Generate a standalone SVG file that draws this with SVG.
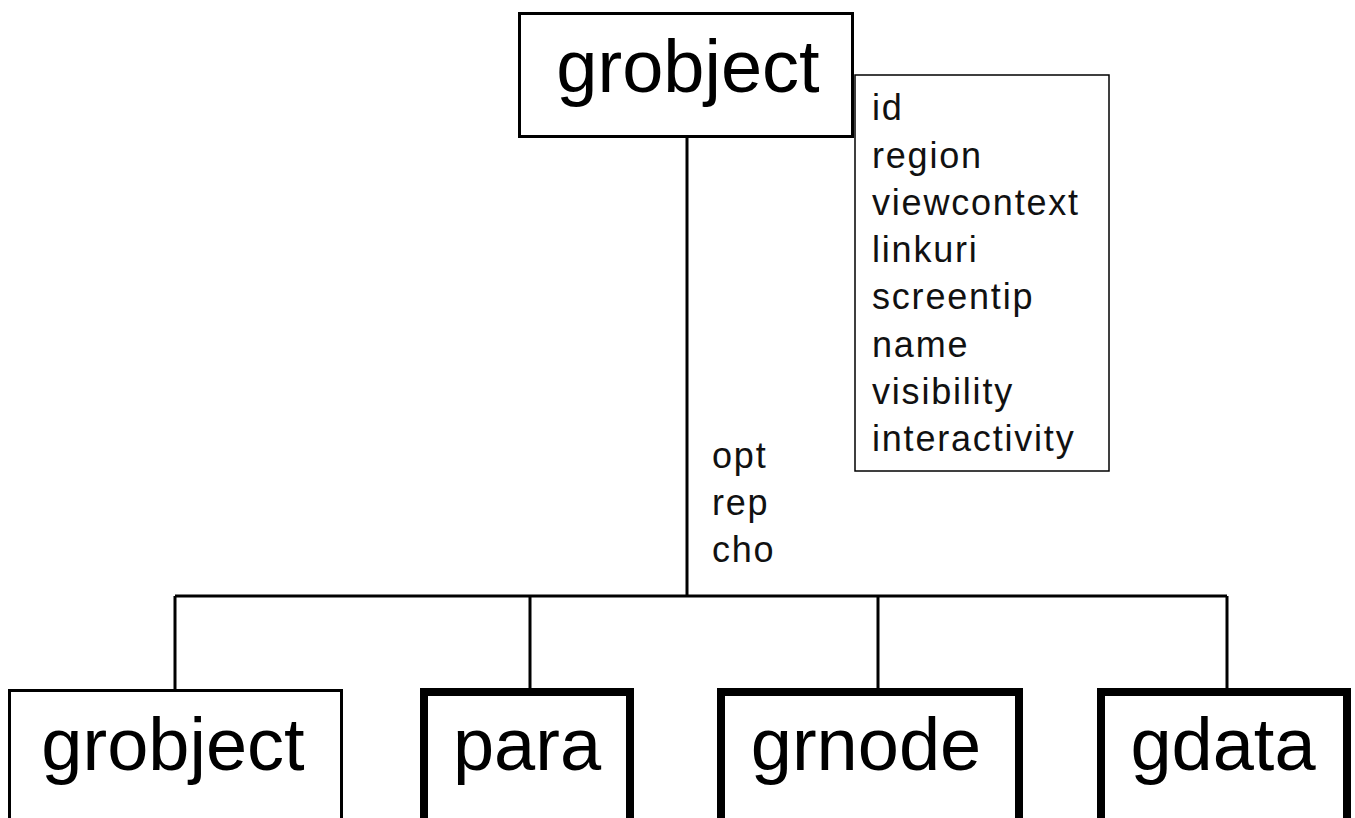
<svg xmlns="http://www.w3.org/2000/svg" width="1355" height="818" viewBox="0 0 1355 818">
<style>
.box{fill:#fff;stroke:#000;stroke-width:3}
.thick{fill:#fff;stroke:#000;stroke-width:8}
.attr{fill:#fff;stroke:#000;stroke-width:1.5}
.big{font-family:"Liberation Sans",Arial,sans-serif;font-size:74px;fill:#000;text-anchor:middle}
.small{font-family:"Liberation Sans",Arial,sans-serif;font-size:36px;fill:#111;letter-spacing:1.8px}
.conn{fill:none;stroke:#000;stroke-width:3}
</style>
<rect width="1355" height="818" fill="#fff"/>
<g id="connectors">
<path class="conn" d="M687 137 V596 M175 596 H1227 M175 596 V690 M530 596 V690 M878 596 V690 M1227 596 V690"/>
</g>
<g id="attributes">
<rect class="attr" x="855" y="75" width="254" height="396"/>
<text class="small" x="872" y="120">id</text>
<text class="small" x="872" y="168">region</text>
<text class="small" x="872" y="215">viewcontext</text>
<text class="small" x="872" y="262">linkuri</text>
<text class="small" x="872" y="309">screentip</text>
<text class="small" x="872" y="357">name</text>
<text class="small" x="872" y="404">visibility</text>
<text class="small" x="872" y="451">interactivity</text>
</g>
<g id="node-grobject-top">
<rect class="box" x="519.5" y="13.5" width="333" height="123"/>
<text class="big" x="688" y="92">grobject</text>
</g>
<g id="label-opt">
<text class="small" x="712" y="468">opt</text>
<text class="small" x="712" y="515">rep</text>
<text class="small" x="712" y="562">cho</text>
</g>
<g id="node-grobject">
<rect class="box" x="9.5" y="690.5" width="332" height="140"/>
<text class="big" x="173" y="770">grobject</text>
</g>
<g id="node-para">
<rect class="thick" x="424" y="692" width="206" height="140"/>
<text class="big" x="527" y="770">para</text>
</g>
<g id="node-grnode">
<rect class="thick" x="721" y="692" width="298" height="140"/>
<text class="big" x="866" y="770">grnode</text>
</g>
<g id="node-gdata">
<rect class="thick" x="1101" y="692" width="246" height="140"/>
<text class="big" x="1223" y="770">gdata</text>
</g>
</svg>
